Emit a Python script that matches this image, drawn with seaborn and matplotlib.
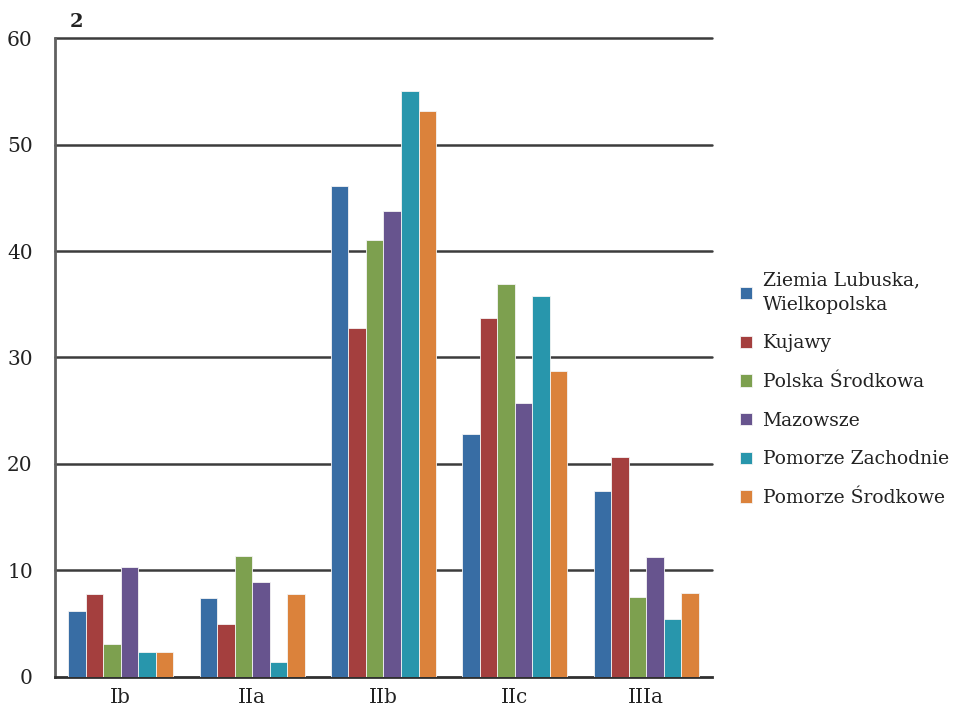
import matplotlib
matplotlib.use('Agg')
import matplotlib.pyplot as plt
import seaborn as sns
import pandas as pd

categories = ['Ib', 'IIa', 'IIb', 'IIc', 'IIIa']
regions = ['Ziemia Lubuska,\nWielkopolska', 'Kujawy', 'Polska Środkowa',
           'Mazowsze', 'Pomorze Zachodnie', 'Pomorze Środkowe']
ziemia = [6.2, 7.4, 46.1, 22.8, 17.5]
kujawy = [7.8, 5.0, 32.8, 33.7, 20.7]
polska_srodkowa = [3.1, 11.4, 41.0, 36.9, 7.5]
mazowsze = [10.3, 8.9, 43.8, 25.7, 11.3]
pomorze_zach = [2.35, 1.4, 55.0, 35.8, 5.4]
pomorze_srod = [2.35, 7.8, 53.1, 28.7, 7.9]
colors = ['#386DA4', '#A43F3E', '#7DA04F', '#67548E', '#2896AC', '#DB823B']

series = [ziemia, kujawy, polska_srodkowa, mazowsze, pomorze_zach, pomorze_srod]
rows = []
for reg, vals in zip(regions, series):
    for cat, v in zip(categories, vals):
        rows.append({'cat': cat, 'region': reg, 'value': v})
df = pd.DataFrame(rows)

sns.set_style('white')
plt.rcParams['font.family'] = ['DejaVu Serif']

fig = plt.figure(figsize=(9.68, 7.12), dpi=100)
ax = fig.add_axes([0.0568, 0.0492, 0.6787, 0.8974])
sns.barplot(data=df, x='cat', y='value', hue='region', palette=colors,
            saturation=1, width=0.8, edgecolor='#f4f4f4', linewidth=0.6,
            ax=ax, zorder=3)

ax.set_ylim(0, 60)
ax.set_yticks(range(0, 61, 10))
for y in range(10, 61, 10):
    ax.axhline(y, color='#3c3c3c', linewidth=1.8, zorder=0, clip_on=False)
for s in ['top', 'right']:
    ax.spines[s].set_visible(False)
ax.spines['left'].set_color('#606060')
ax.spines['left'].set_linewidth(2)
ax.spines['bottom'].set_color('#303030')
ax.spines['bottom'].set_linewidth(2)
ax.tick_params(axis='both', length=0, labelsize=14.5, colors='#222222', pad=8)
ax.tick_params(axis='y', pad=16)
ax.set_xlabel('')
ax.set_ylabel('')

fig.text(0.072, 0.962, '2', fontsize=14, fontweight='bold', color='#222222')

leg = ax.legend(loc='upper left', bbox_to_anchor=(1.017, 0.662), frameon=False,
                fontsize=13.5, handlelength=0.65, handleheight=0.65,
                handletextpad=0.55, labelspacing=1.1, labelcolor='#222222')
leg.get_texts()[0].set_linespacing(1.5)

fig.savefig('out.png', dpi=100)
